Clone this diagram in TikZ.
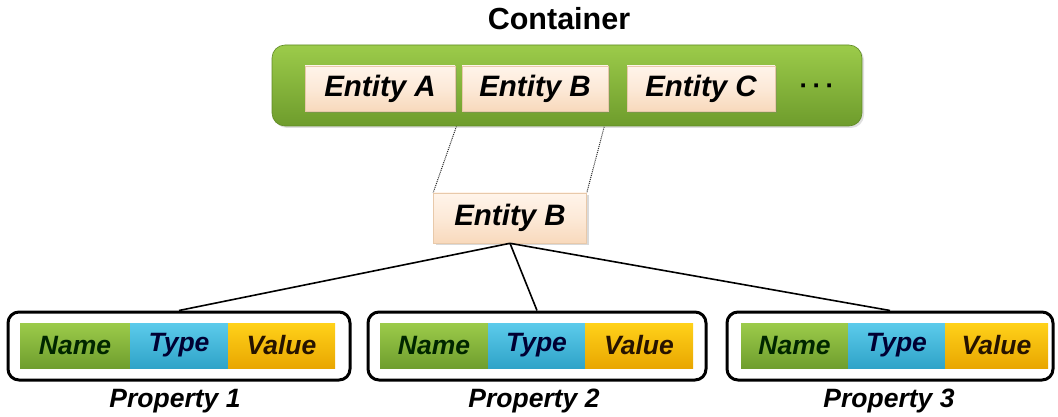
\documentclass[tikz,border=0pt]{standalone}
\usepackage{fontspec}
\setmainfont{Liberation Sans}
\usetikzlibrary{shadows,backgrounds}

\definecolor{contTop}{HTML}{9CCB4A}
\definecolor{contBot}{HTML}{6E9C2C}
\definecolor{contEdge}{HTML}{5F8A25}
\definecolor{entTop}{HTML}{FFF4EA}
\definecolor{entBot}{HTML}{F8D9BC}
\definecolor{entEdge}{HTML}{E8C9AA}
\definecolor{nameTop}{HTML}{9CCB4A}
\definecolor{nameBot}{HTML}{6F9E2E}
\definecolor{typeTop}{HTML}{5CCBEB}
\definecolor{typeBot}{HTML}{2FA3C8}
\definecolor{valTop}{HTML}{FFD21A}
\definecolor{valBot}{HTML}{E9A600}

\tikzset{
  entbox/.style={rectangle, draw=entEdge, line width=0.6pt,
    top color=entTop, bottom color=entBot, middle color=entTop!60!entBot,
    font=\fontsize{29.5}{32}\selectfont\bfseries\itshape,
    drop shadow={opacity=0.3, shadow xshift=2pt, shadow yshift=-2pt}},
  cell/.style={rectangle, minimum height=45pt, inner sep=0pt,
    font=\fontsize{26.5}{29}\selectfont\bfseries\itshape},
  namecell/.style={cell, top color=nameTop, bottom color=nameBot, text=black!85!green},
  typecell/.style={cell, top color=typeTop, bottom color=typeBot, text=black!80!blue},
  valcell/.style={cell, top color=valTop, bottom color=valBot, text=black!85!orange},
  propframe/.style={rectangle, draw=black, line width=3pt, rounded corners=11pt,
    minimum height=68pt},
  proplabel/.style={font=\fontsize{26.5}{29}\selectfont\bfseries\itshape},
  link/.style={draw=black, line width=1.6pt},
  zoomline/.style={draw=black!85, line width=1pt, densely dotted}
}

\begin{document}
\begin{tikzpicture}[x=1pt,y=-1pt]
\useasboundingbox (0,0) rectangle (1058,417);

% container with its entities
\node (ctitle) at (559,19) {\fontsize{30.5}{32}\selectfont\bfseries Container};
\node (cont) [rectangle, rounded corners=13pt, draw=contEdge, line width=0.6pt,
  top color=contTop, bottom color=contBot,
  minimum width=590pt, minimum height=81pt,
  drop shadow={opacity=0.25, shadow xshift=2pt, shadow yshift=-2pt}] at (567,85.5) {};
\node (ea) [entbox, minimum width=150pt, minimum height=45pt] at (380,88.5) {Entity A};
\node (eb) [entbox, minimum width=146pt, minimum height=45pt] at (535,88.5) {Entity B};
\node (ec) [entbox, minimum width=148pt, minimum height=45pt] at (701,88.5) {Entity C};
\node (dots) at (817,89) {\fontsize{26}{28}\selectfont\bfseries ·\,·\,·};

% selected entity, enlarged
\node (ebz) [entbox, minimum width=153pt, minimum height=50pt] at (510,218) {Entity B};

\begin{scope}[on background layer]
  \draw[zoomline] (eb.south west) -- (ebz.north west);
  \draw[zoomline] (eb.south east) -- (ebz.north east);
\end{scope}

% property 1
\node (p1) [propframe, minimum width=342pt] at (179,346) {};
\node (n1) [namecell, minimum width=110pt] at (75,345.5) {Name};
\node (t1) [typecell, minimum width=98pt] at (179,345.5) {Type};
\node (v1) [valcell, minimum width=107pt] at (281.5,345.5) {Value};
\node (l1) [proplabel] at (175,401) {Property 1};

% property 2
\node (p2) [propframe, minimum width=338pt] at (537,346) {};
\node (n2) [namecell, minimum width=108pt] at (434,345.5) {Name};
\node (t2) [typecell, minimum width=97pt] at (536.5,345.5) {Type};
\node (v2) [valcell, minimum width=108pt] at (639,345.5) {Value};
\node (l2) [proplabel] at (534,401) {Property 2};

% property 3
\node (p3) [propframe, minimum width=326pt] at (890,346) {};
\node (n3) [namecell, minimum width=107pt] at (794.5,345.5) {Name};
\node (t3) [typecell, minimum width=97pt] at (896.5,345.5) {Type};
\node (v3) [valcell, minimum width=103pt] at (996.5,345.5) {Value};
\node (l3) [proplabel] at (889,401) {Property 3};

% links from the entity to its properties
\draw[link] (ebz.south) -- (p1.north);
\draw[link] (ebz.south) -- (p2.north);
\draw[link] (ebz.south) -- (p3.north);
\end{tikzpicture}
\end{document}
